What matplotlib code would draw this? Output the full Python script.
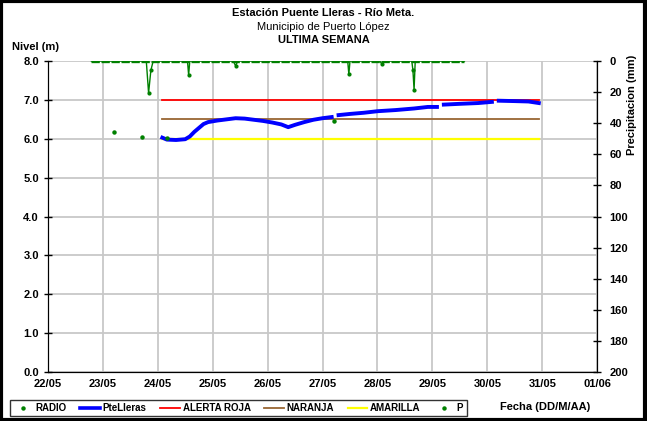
import numpy as np
import pandas as pd
import matplotlib
matplotlib.use("Agg")
import matplotlib.pyplot as plt
import matplotlib.dates as mdates
from matplotlib.lines import Line2D
from matplotlib.patches import Rectangle

plt.rcParams["font.family"] = ["Liberation Sans", "DejaVu Sans"]

# nivel PteLleras (m)
nivel_fecha = [
    "2011-05-24 02:00", "2011-05-24 04:00", "2011-05-24 08:00", "2011-05-24 12:00",
    "2011-05-24 14:00", "2011-05-24 16:00", "2011-05-24 18:00", "2011-05-24 20:00",
    "2011-05-24 22:00", "2011-05-25 02:00", "2011-05-25 06:00", "2011-05-25 10:00",
    "2011-05-25 14:00", "2011-05-25 18:00", "2011-05-25 22:00", "2011-05-26 02:00",
    "2011-05-26 06:00", "2011-05-26 09:00", "2011-05-26 12:00", "2011-05-26 16:00",
    "2011-05-26 20:00", "2011-05-27 00:00", "2011-05-27 04:00", "2011-05-27 05:00",
    "2011-05-27 07:00", "2011-05-27 12:00", "2011-05-27 18:00", "2011-05-28 00:00",
    "2011-05-28 08:00", "2011-05-28 16:00", "2011-05-28 22:00", "2011-05-29 02:00",
    "2011-05-29 03:00", "2011-05-29 05:00", "2011-05-29 12:00", "2011-05-29 20:00",
    "2011-05-30 02:00", "2011-05-30 03:00", "2011-05-30 05:00", "2011-05-30 12:00",
    "2011-05-30 18:00", "2011-05-30 22:30",
]
nivel_m = [
    6.03, 5.98, 5.97, 5.99,
    6.06, 6.18, 6.28, 6.38,
    6.43, 6.47, 6.50, 6.53,
    6.52, 6.49, 6.46, 6.42,
    6.37, 6.30, 6.36, 6.43,
    6.49, 6.53, 6.56, np.nan,
    6.61, 6.64, 6.67, 6.71,
    6.74, 6.78, 6.82, 6.82,
    np.nan, 6.88, 6.90, 6.92,
    6.95, np.nan, 6.98, 6.97,
    6.96, 6.92,
]

# lecturas radio
radio_fecha = ["2011-05-23 05:00", "2011-05-23 17:00", "2011-05-24 04:00", "2011-05-27 05:00"]
radio_m = [6.17, 6.05, 6.02, 6.46]

# umbrales
umbral_fecha = ["2011-05-24 02:00", "2011-05-30 22:30"]
alerta_roja = 7.0
naranja = 6.5
amarilla = 6.0

# precipitacion (mm)
p_fecha = [
    "2011-05-22 19:00", "2011-05-23 19:00", "2011-05-23 20:00", "2011-05-23 21:00",
    "2011-05-23 22:00", "2011-05-24 13:00", "2011-05-24 13:30", "2011-05-24 14:00",
    "2011-05-25 09:00", "2011-05-25 10:00", "2011-05-25 11:00", "2011-05-27 11:00",
    "2011-05-27 11:30", "2011-05-27 12:00", "2011-05-28 01:00", "2011-05-28 02:00",
    "2011-05-28 03:00", "2011-05-28 15:00", "2011-05-28 15:30", "2011-05-28 16:00",
    "2011-05-28 16:30", "2011-05-29 14:00",
]
p_mm = [
    0, 0, 20.5, 6,
    0, 0, 9, 0,
    0, 3, 0, 0,
    8.5, 0, 0, 2,
    0, 0, 6, 18.5,
    0, 0,
]

nivel_fecha = pd.to_datetime(nivel_fecha)
radio_fecha = pd.to_datetime(radio_fecha)
umbral_fecha = pd.to_datetime(umbral_fecha)
p_fecha = pd.to_datetime(p_fecha)

verde = "#008000"

fig = plt.figure(figsize=(6.47, 4.21), dpi=100)
ax = fig.add_axes([0.074, 0.116, 0.849, 0.739])
ax2 = ax.twinx()

ax.plot(radio_fecha, radio_m, linestyle="none", marker="o", markersize=2.2, color=verde, zorder=4)
ax.plot(nivel_fecha, nivel_m, color="#0000FF", linewidth=2.8, zorder=3)
ax.plot(umbral_fecha, [alerta_roja] * 2, color="#FF0000", linewidth=1.3)
ax.plot(umbral_fecha, [naranja] * 2, color="#996633", linewidth=1.3)
ax.plot(umbral_fecha, [amarilla] * 2, color="#FFFF00", linewidth=1.6)

# linea base de la precipitacion (punteada gruesa) y picos finos
p_arr = np.array(p_mm)
ax2.plot([p_fecha[0], p_fecha[-1]], [p_mm[0], p_mm[-1]], color=verde, linewidth=2.4, dashes=(2.5, 0.5))
ax2.plot(p_fecha, p_mm, color=verde, linewidth=1.0)
ax2.plot(p_fecha[p_arr > 0], p_arr[p_arr > 0], linestyle="none",
         marker="o", markersize=2.0, color=verde)

ax.set_ylim(0, 8)
ax.set_yticks(np.arange(0, 8.1, 1.0))
ax.yaxis.set_major_formatter(plt.FormatStrFormatter("%.1f"))
ax2.set_ylim(200, 0)
ax2.set_yticks(np.arange(0, 201, 20))

ax.set_xlim(pd.Timestamp("2011-05-22"), pd.Timestamp("2011-06-01"))
ax.xaxis.set_major_locator(mdates.DayLocator())
ax.xaxis.set_major_formatter(mdates.DateFormatter("%d/%m"))

ax.grid(True, color="#c8c8c8", linewidth=1.3)
ax.set_axisbelow(True)

for a in (ax, ax2):
    a.spines["top"].set_visible(False)
    a.tick_params(labelsize=8, direction="inout", length=6, width=1)
    for lab in a.get_xticklabels() + a.get_yticklabels():
        lab.set_fontweight("bold")
ax.tick_params(axis="x", length=0, pad=5)
ax2.tick_params(pad=6)

fig.text(0.5, 1 - 13 / 421, "Estación Puente Lleras - Río Meta.", ha="center", va="center",
         fontsize=8, fontweight="bold")
fig.text(0.5, 1 - 27 / 421, "Municipio de Puerto López", ha="center", va="center", fontsize=8)
fig.text(0.5, 1 - 40 / 421, "ULTIMA SEMANA", ha="center", va="center", fontsize=8, fontweight="bold")
fig.text(12 / 647, 1 - 47 / 421, "Nivel (m)", ha="left", va="center", fontsize=8, fontweight="bold")
fig.text(632 / 647, 1 - 105 / 421, "Precipitacion (mm)", ha="center", va="center", rotation=90,
         fontsize=8, fontweight="bold")
fig.text(545 / 647, 1 - 407 / 421, "Fecha (DD/M/AA)", ha="center", va="center", fontsize=8,
         fontweight="bold")

handles = [
    Line2D([], [], linestyle="none", marker="o", markersize=2.2, color=verde),
    Line2D([], [], color="#0000FF", linewidth=2.6),
    Line2D([], [], color="#FF0000", linewidth=1.3),
    Line2D([], [], color="#996633", linewidth=1.3),
    Line2D([], [], color="#FFFF00", linewidth=1.6),
    Line2D([], [], linestyle="none", marker="o", markersize=2.2, color=verde),
]
labels = ["RADIO", "PteLleras", "ALERTA ROJA", "NARANJA", "AMARILLA", "P"]
leg = fig.legend(handles, labels, ncol=6, loc="center left",
                 bbox_to_anchor=(10 / 647, 1 - 408 / 421),
                 prop={"weight": "bold", "size": 7}, frameon=True, fancybox=False,
                 handlelength=2.0, handletextpad=0.3, columnspacing=1.4,
                 borderpad=0.35, borderaxespad=0)
leg.get_frame().set_edgecolor("black")
leg.get_frame().set_linewidth(1.0)

fig.patches.append(Rectangle((0.002, 0.003), 0.995, 0.994, transform=fig.transFigure,
                             fill=False, edgecolor="black", linewidth=3))

fig.savefig("out.png", dpi=100)
